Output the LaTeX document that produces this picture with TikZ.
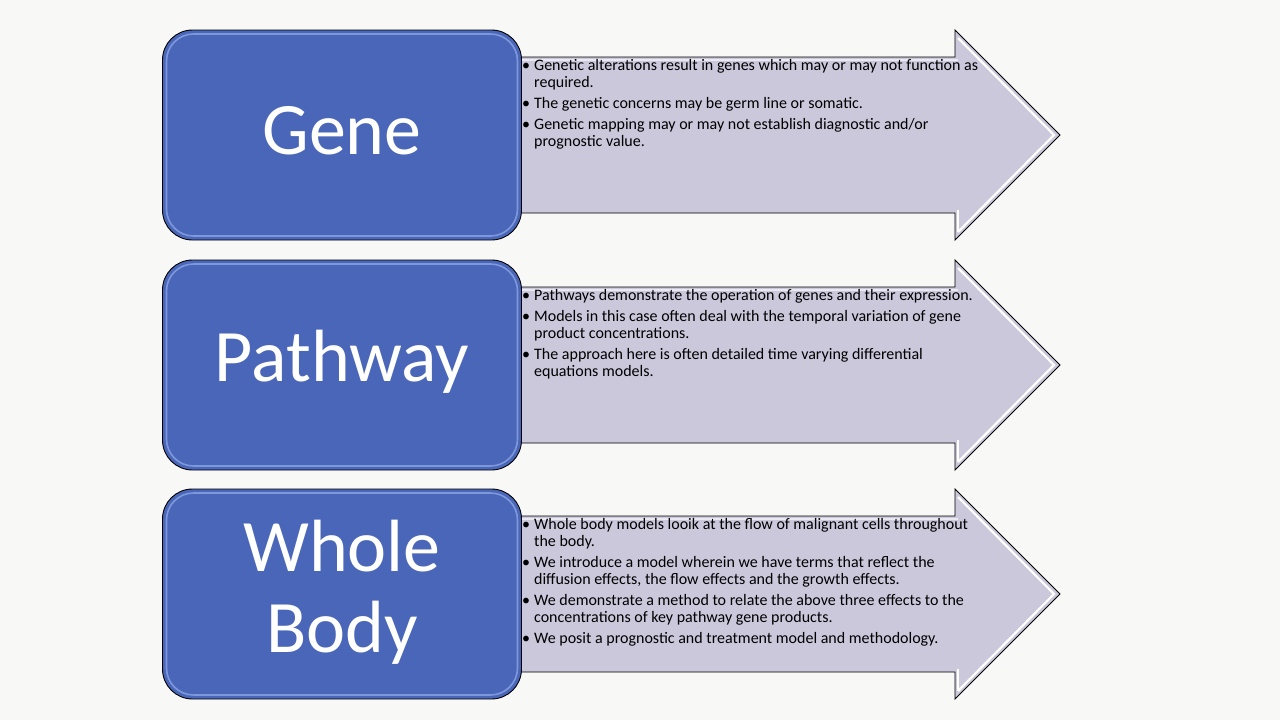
\documentclass[tikz,border=0pt]{standalone}
\usepackage{fontspec}
\setmainfont{Carlito}
\definecolor{bg}{HTML}{F8F8F6}
\definecolor{boxblue}{HTML}{4A66B8}
\definecolor{boxedge}{HTML}{7E98DC}
\definecolor{arrowfill}{HTML}{CBC8DC}
\tikzset{
  labelbox/.style={draw=black, line width=0.9pt, fill=boxblue, rounded corners=30pt,
    minimum width=359pt, minimum height=210pt, inner sep=0pt},
  innerbevel/.style={draw=boxedge, line width=1.6pt, rounded corners=27pt,
    minimum width=351pt, minimum height=202pt, inner sep=0pt},
  bigtext/.style={text=white, font=\fontsize{74}{81}\selectfont, align=center},
  arrowshape/.style={fill=arrowfill, draw=black, line width=0.9pt, line join=miter},
  arrowbevel/.style={draw=white, line width=2.2pt, line join=miter},
  bullets/.style={anchor=north west, inner sep=0pt, font=\fontsize{16}{17}\selectfont, align=left}
}
\newcommand{\bitem}[1]{\textbullet&#1}
\begin{document}
\begin{tikzpicture}[x=1pt,y=-1pt]
\useasboundingbox[fill=bg] (0,0) rectangle (1280,720);
% rows: T = 30, 260, 489
\foreach \T/\nm in {30/a,260/b,489/c}{
  \coordinate (tip\nm) at (1060,\T+105);
  \coordinate (ht\nm) at (955,\T);
  \coordinate (hb\nm) at (955,\T+210);
  \coordinate (bt\nm) at (955,\T+27);
  \coordinate (bb\nm) at (955,\T+183);
  \coordinate (lt\nm) at (500,\T+27);
  \coordinate (lb\nm) at (500,\T+183);
  \path[arrowshape] (lt\nm) -- (bt\nm) -- (ht\nm) -- (tip\nm) -- (hb\nm) -- (bb\nm) -- (lb\nm) -- cycle;
  \draw[arrowbevel] ([shift={(3,8)}]ht\nm) -- ([shift={(-6,0)}]tip\nm) -- ([shift={(3,-8)}]hb\nm);
  \draw[arrowbevel, draw=white!60!arrowfill] ([shift={(0,3)}]lt\nm) -- ([shift={(3,3)}]bt\nm);
  \draw[arrowbevel] ([shift={(3,-3)}]bb\nm) -- ([shift={(3,-8)}]hb\nm);
  \node[labelbox] (box\nm) at (342,\T+105) {};
  \node[innerbevel] (bev\nm) at (box\nm.center) {};
}
\node[bigtext] (gene) at (342,131) {Gene};
\node[bigtext] (path) at (342,362) {Pathway};
\node[bigtext] (body) at (342,592) {Whole\\Body};

\node[bullets] (ta) at (522,58) {\begin{tabular}{@{}l@{\hspace{4pt}}l@{}}
\bitem{Genetic alterations result in genes which may or may not function as}\\
&required.\\[4pt]
\bitem{The genetic concerns may be germ line or somatic.}\\[4pt]
\bitem{Genetic mapping may or may not establish diagnostic and/or}\\
&prognostic value.
\end{tabular}};

\node[bullets] (tb) at (522,288) {\begin{tabular}{@{}l@{\hspace{4pt}}l@{}}
\bitem{Pathways demonstrate the operation of genes and their expression.}\\[4pt]
\bitem{Models in this case often deal with the temporal variation of gene}\\
&product concentrations.\\[4pt]
\bitem{The approach here is often detailed time varying differential}\\
&equations models.
\end{tabular}};

\node[bullets] (tc) at (522,517) {\begin{tabular}{@{}l@{\hspace{4pt}}l@{}}
\bitem{Whole body models looik at the flow of malignant cells throughout}\\
&the body.\\[4pt]
\bitem{We introduce a model wherein we have terms that reflect the}\\
&diffusion effects, the flow effects and the growth effects.\\[4pt]
\bitem{We demonstrate a method to relate the above three effects to the}\\
&concentrations of key pathway gene products.\\[4pt]
\bitem{We posit a prognostic and treatment model and methodology.}
\end{tabular}};
\end{tikzpicture}
\end{document}
